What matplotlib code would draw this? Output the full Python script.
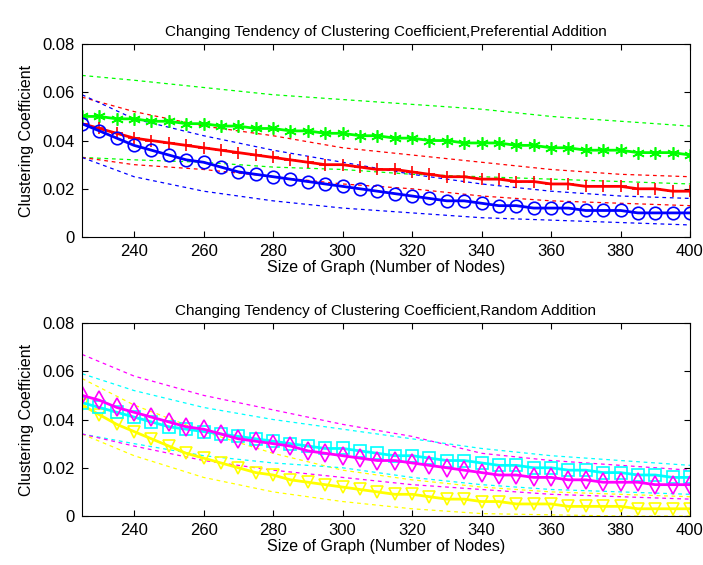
import numpy as np
import matplotlib
matplotlib.use('Agg')
import matplotlib.pyplot as plt

plt.rcParams['font.family'] = ['Liberation Sans', 'DejaVu Sans']

# x positions (number of nodes) for sampled values
nodes = list(range(225, 401, 5))
bound_nodes = [225, 240, 260, 280, 300, 320, 340, 360, 380, 400]

# ---- top panel: preferential addition ----
green_mean = [0.050, 0.050, 0.049, 0.049, 0.048, 0.048, 0.047, 0.047, 0.046, 0.046, 0.045, 0.045,
              0.044, 0.044, 0.043, 0.043, 0.042, 0.042, 0.041, 0.041, 0.040, 0.040, 0.039, 0.039,
              0.039, 0.038, 0.038, 0.037, 0.037, 0.036, 0.036, 0.036, 0.035, 0.035, 0.035, 0.034]
red_mean = [0.047, 0.045, 0.043, 0.041, 0.040, 0.039, 0.038, 0.037, 0.036, 0.035, 0.034, 0.033,
            0.032, 0.031, 0.030, 0.030, 0.029, 0.028, 0.028, 0.027, 0.026, 0.025, 0.025, 0.024,
            0.024, 0.023, 0.023, 0.022, 0.022, 0.021, 0.021, 0.021, 0.020, 0.020, 0.019, 0.019]
blue_mean = [0.047, 0.044, 0.041, 0.038, 0.036, 0.034, 0.032, 0.031, 0.029, 0.027, 0.026, 0.025,
             0.024, 0.023, 0.022, 0.021, 0.020, 0.019, 0.018, 0.017, 0.016, 0.015, 0.015, 0.014,
             0.013, 0.013, 0.012, 0.012, 0.012, 0.011, 0.011, 0.011, 0.010, 0.010, 0.010, 0.010]

green_up = [0.067, 0.065, 0.062, 0.059, 0.057, 0.055, 0.053, 0.050, 0.048, 0.046]
green_lo = [0.033, 0.032, 0.031, 0.029, 0.028, 0.026, 0.025, 0.024, 0.023, 0.022]
red_up = [0.058, 0.052, 0.046, 0.042, 0.037, 0.034, 0.031, 0.028, 0.026, 0.025]
red_lo = [0.033, 0.030, 0.028, 0.025, 0.022, 0.020, 0.017, 0.015, 0.014, 0.013]
blue_up = [0.059, 0.049, 0.042, 0.036, 0.031, 0.026, 0.022, 0.019, 0.017, 0.016]
blue_lo = [0.033, 0.025, 0.019, 0.015, 0.012, 0.010, 0.008, 0.007, 0.006, 0.005]

# ---- bottom panel: random addition ----
cyan_mean = [0.047, 0.045, 0.043, 0.041, 0.039, 0.037, 0.036, 0.035, 0.034, 0.033, 0.032, 0.031,
             0.030, 0.029, 0.028, 0.028, 0.027, 0.026, 0.025, 0.025, 0.024, 0.023, 0.023, 0.022,
             0.021, 0.021, 0.020, 0.020, 0.019, 0.019, 0.018, 0.018, 0.017, 0.017, 0.016, 0.016]
magenta_mean = [0.050, 0.048, 0.045, 0.043, 0.041, 0.039, 0.037, 0.036, 0.034, 0.032, 0.031, 0.030,
                0.029, 0.027, 0.026, 0.025, 0.024, 0.023, 0.023, 0.022, 0.021, 0.020, 0.019, 0.018,
                0.017, 0.017, 0.016, 0.016, 0.015, 0.015, 0.014, 0.014, 0.014, 0.013, 0.013, 0.013]
yellow_mean = [0.046, 0.042, 0.038, 0.035, 0.032, 0.029, 0.026, 0.024, 0.022, 0.020, 0.018, 0.017,
               0.015, 0.014, 0.013, 0.012, 0.011, 0.010, 0.009, 0.009, 0.008, 0.007, 0.007, 0.006,
               0.006, 0.005, 0.005, 0.005, 0.004, 0.004, 0.004, 0.004, 0.003, 0.003, 0.003, 0.003]

cyan_up = [0.059, 0.052, 0.045, 0.040, 0.036, 0.032, 0.028, 0.025, 0.023, 0.021]
cyan_lo = [0.034, 0.030, 0.025, 0.022, 0.020, 0.016, 0.013, 0.011, 0.010, 0.009]
magenta_up = [0.067, 0.058, 0.050, 0.044, 0.038, 0.033, 0.026, 0.023, 0.021, 0.019]
magenta_lo = [0.034, 0.029, 0.023, 0.019, 0.016, 0.013, 0.011, 0.009, 0.008, 0.007]
yellow_up = [0.057, 0.046, 0.035, 0.026, 0.019, 0.015, 0.012, 0.010, 0.009, 0.008]
yellow_lo = [0.034, 0.025, 0.016, 0.010, 0.006, 0.003, 0.001, 0.0005, 0.0, 0.0]

x_ticks = [240, 260, 280, 300, 320, 340, 360, 380, 400]
y_ticks = [0, 0.02, 0.04, 0.06, 0.08]
y_tick_labels = ['0', '0.02', '0.04', '0.06', '0.08']

fig = plt.figure(figsize=(7.03, 5.65), dpi=100)
ax1 = fig.add_axes([0.1166, 0.5805, 0.8649, 0.3415])
ax2 = fig.add_axes([0.1166, 0.0867, 0.8649, 0.3416])

asterisk = (6, 2, 0)
top_series = [
    (green_mean, green_up, green_lo, '#00ff00', asterisk),
    (red_mean, red_up, red_lo, '#ff0000', '+'),
    (blue_mean, blue_up, blue_lo, '#0000ff', 'o'),
]
bottom_series = [
    (yellow_mean, yellow_up, yellow_lo, '#ffff00', 'v'),
    (cyan_mean, cyan_up, cyan_lo, '#00ffff', 's'),
    (magenta_mean, magenta_up, magenta_lo, '#ff00ff', 'd'),
]


def draw_panel(ax, series, title):
    for mean, up, lo, col, mk in series:
        ax.plot(bound_nodes, up, '--', color=col, lw=0.9, dashes=(3, 3))
        ax.plot(bound_nodes, lo, '--', color=col, lw=0.9, dashes=(3, 3))
    for mean, up, lo, col, mk in series:
        ax.plot(nodes, mean, '-', color=col, lw=2.0, marker=mk, markersize=9,
                markerfacecolor='none', markeredgecolor=col, markeredgewidth=1.2)
    ax.set_xlim(225, 400)
    ax.set_ylim(0, 0.08)
    ax.set_xticks(x_ticks)
    ax.set_yticks(y_ticks)
    ax.set_yticklabels(y_tick_labels)
    ax.tick_params(direction='in', top=True, right=True, labelsize=12, length=4, pad=5)
    ax.set_xlabel('Size of Graph (Number of Nodes)', fontsize=11.5, labelpad=1)
    ax.set_ylabel('Clustering Coefficient', fontsize=11.5, labelpad=6)
    ax.set_title(title, fontsize=11, pad=6)
    for s in ax.spines.values():
        s.set_linewidth(0.8)


draw_panel(ax1, top_series, 'Changing Tendency of Clustering Coefficient,Preferential Addition')
draw_panel(ax2, bottom_series, 'Changing Tendency of Clustering Coefficient,Random Addition')

fig.savefig('out.png', dpi=100)
